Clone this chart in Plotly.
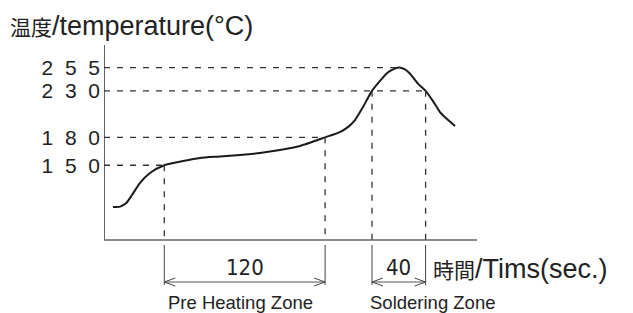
import plotly.graph_objects as go

# ---- data ----
time_s = [6.7, 12, 16.4, 20.9, 26.9, 34.3, 45, 59, 71.6, 86.6, 101.5, 116.4, 131.3,
          146.3, 165, 176, 182, 187.3, 193.3, 200, 211.2, 215, 220, 224.6, 228.4,
          234.3, 240, 245.5, 250.7, 256, 262]
temp_c = [105, 105.5, 109, 118, 131, 141.7, 150, 154.5, 157.8, 159.4, 161, 163.2, 166.4,
          170.7, 180, 185.7, 191, 198.6, 212.6, 230, 249, 252.5, 255, 253, 248.4,
          237.8, 230, 219, 207.2, 199.7, 192.2]

levels = [150, 180, 230, 255]
level_text = ["1\u20075\u20070", "1\u20078\u20070", "2\u20073\u20070", "2\u20075\u20075"]
level_end_t = [45, 165, 240, 220]          # where the dashed guide meets the curve
drop_t = [45, 165, 200, 240]               # vertical guides
drop_from = [150, 180, 230, 230]

zone_start = [45, 200]
zone_len = [120, 40]
zone_label = ["120", "40"]
zone_name = ["Pre Heating Zone", "Soldering Zone"]

title_cjk, title_lat = "温度", "/temperature(°C)"
time_cjk, time_lat = "時間", "/Tims(sec.)"

# ---- pixel helpers (layout only; page pixels, body has an 8px margin) ----
OFF = 8
W, H = 633 - OFF, 313 - OFF
PL, PT, PR, PB = 104, 45, 477, 313     # plot area in page pixels
L, T_ = PL - OFF, PT - OFF
R, B = W - (PR - OFF), H - (PB - OFF)
PXS = 1.34   # px per second
PXD = 0.93   # px per degree


def ty(py):
    return 203.75 - (py - 115.25) / PXD


def tx(px):
    return (px - PL) / PXS


x_rng = [0, tx(PR)]
y_rng = [ty(PB), ty(PT)]
axis_T = ty(240)

fig = go.Figure()
fig.add_trace(go.Scatter(x=time_s, y=temp_c, mode="lines",
                         line=dict(color="#1a1a1a", width=2, shape="spline", smoothing=0.6),
                         hoverinfo="skip", showlegend=False))

shapes = []
# axes
shapes.append(dict(type="line", xref="x", yref="y", x0=0, x1=0, y0=axis_T, y1=y_rng[1],
                   line=dict(color="#333", width=1.5)))
shapes.append(dict(type="line", xref="x", yref="y", x0=0, x1=x_rng[1], y0=axis_T, y1=axis_T,
                   line=dict(color="#666", width=1.5)))
# horizontal guides
for lv, te in zip(levels, level_end_t):
    shapes.append(dict(type="line", xref="x", yref="y", x0=0, x1=te, y0=lv, y1=lv,
                       line=dict(color="#333", width=1.3, dash="6px,7px")))
# vertical guides
for td, tf in zip(drop_t, drop_from):
    shapes.append(dict(type="line", xref="x", yref="y", x0=td, x1=td, y0=tf, y1=axis_T,
                       line=dict(color="#333", width=1.3, dash="6px,7px")))
# brackets
ah_len = 11 / PXS
ah_h = 4 / PXD
ya = ty(282)
for zs, zl in zip(zone_start, zone_len):
    ze = zs + zl
    for xx in (zs, ze):
        shapes.append(dict(type="line", xref="x", yref="y", x0=xx, x1=xx, y0=ty(245), y1=ty(285),
                           line=dict(color="#444", width=1)))
    shapes.append(dict(type="line", xref="x", yref="y", x0=zs, x1=ze, y0=ya, y1=ya,
                       line=dict(color="#555", width=1)))
    for tip, d in ((zs, 1), (ze, -1)):
        for s in (1, -1):
            shapes.append(dict(type="line", xref="x", yref="y", x0=tip, x1=tip + d * ah_len,
                               y0=ya, y1=ya + s * ah_h, line=dict(color="#444", width=1)))

SANS = "Liberation Sans, Arial, Noto Sans CJK JP, sans-serif"
ann = []
for zs, zl, lab in zip(zone_start, zone_len, zone_label):
    ann.append(dict(x=zs + zl / 2, y=ty(267), xref="x", yref="y", text=lab, showarrow=False,
                    font=dict(family="Liberation Sans Narrow, DejaVu Sans Condensed, sans-serif",
                              size=22, color="#222")))
ann.append(dict(x=tx(240), y=ty(302), xref="x", yref="y", text=zone_name[0], showarrow=False,
                font=dict(family=SANS, size=18.5, color="#222")))
ann.append(dict(x=tx(432), y=ty(302), xref="x", yref="y", text=zone_name[1], showarrow=False,
                font=dict(family=SANS, size=18.5, color="#222")))
ann.append(dict(x=tx(431), y=ty(269), xref="x", yref="y",
                text=f"<span style='font-size:21px'>{time_cjk}</span>{time_lat}",
                showarrow=False, xanchor="left", yanchor="middle",
                font=dict(family=SANS, size=27, color="#222")))
pw, ph = W - L - R, H - T_ - B
ann.append(dict(x=(8 - PL) / pw, y=(PB - 26) / ph, xref="paper", yref="paper",
                text=f"<span style='font-size:21px'>{title_cjk}</span>{title_lat}",
                showarrow=False, xanchor="left", yanchor="middle",
                font=dict(family=SANS, size=27, color="#222")))

fig.update_layout(
    width=W, height=H, margin=dict(l=L, r=R, t=T_, b=B, pad=0, autoexpand=False),
    paper_bgcolor="white", plot_bgcolor="white",
    shapes=shapes, annotations=ann,
    xaxis=dict(range=x_rng, showgrid=False, zeroline=False, showline=False,
               showticklabels=False, ticks=""),
    yaxis=dict(range=y_rng, showgrid=False, zeroline=False, showline=False, ticks="",
               tickmode="array", tickvals=levels, ticktext=level_text,
               ticklabelstandoff=3,
               tickfont=dict(family="Liberation Sans, Arial, sans-serif", size=21, color="#222")),
)
fig.write_html("out.html")
